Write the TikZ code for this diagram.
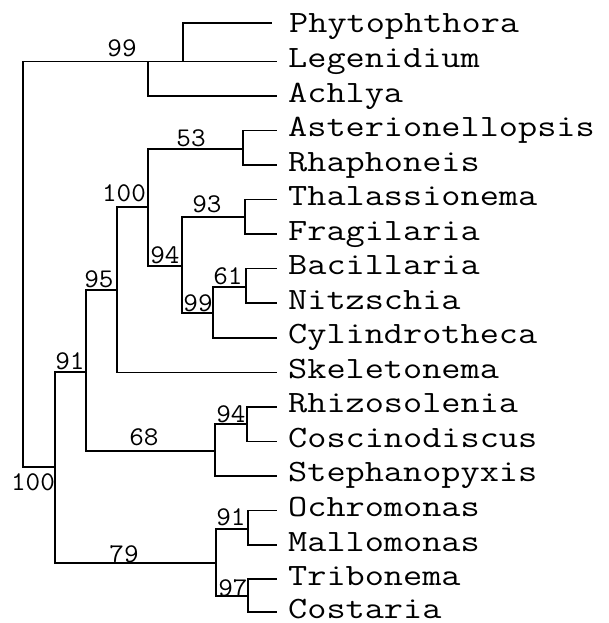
\documentclass[tikz,border=0pt]{standalone}
\usepackage{graphicx}
\newcommand\leafwide[1]{\scalebox{1.2}[1]{#1}}
\newcommand\numwide[1]{\scalebox{1.05}[1]{#1}}
\begin{document}
\begin{tikzpicture}[x=1pt,y=-1pt,
  branch/.style={draw=black, line width=1.5pt},
  leaf/.style={anchor=west, inner xsep=11pt, inner ysep=0pt, text height=12pt, text depth=0pt,
    font=\ttfamily\fontsize{31}{31}\selectfont},
  support/.style={anchor=base, inner sep=0pt, font=\ttfamily\fontsize{27}{27}\selectfont}]
\fill[white] (0,0) rectangle (608,623);
\useasboundingbox (0,0) rectangle (608,623);
% internal nodes
\coordinate (root) at (23,61.5);
\coordinate (oom) at (148,61.5);
\coordinate (pl) at (183,61.5);
\coordinate (nA) at (55,467);
\coordinate (nB) at (86,372);
\coordinate (nC) at (117,290);
\coordinate (nD) at (148,207);
\coordinate (nE) at (243,149);
\coordinate (nF) at (182,266);
\coordinate (nG) at (245,217);
\coordinate (nH) at (213,313);
\coordinate (nI) at (246,287);
\coordinate (nJ) at (215,451);
\coordinate (nK) at (247,424);
\coordinate (nL) at (216,563);
\coordinate (nM) at (248,529);
\coordinate (nN) at (248,596);
% leaves
\node[leaf, text height=20pt, inner xsep=17pt] (phy) at (272,23) {\leafwide{Phytophthora}};
\node[leaf] (leg) at (277,61.5) {\leafwide{Legenidium}};
\node[leaf] (ach) at (277,96.1) {\leafwide{Achlya}};
\node[leaf] (ast) at (277,130.6) {\leafwide{Asterionellopsis}};
\node[leaf] (rha) at (277,165.1) {\leafwide{Rhaphoneis}};
\node[leaf] (tha) at (277,199.7) {\leafwide{Thalassionema}};
\node[leaf] (fra) at (277,234.2) {\leafwide{Fragilaria}};
\node[leaf] (bac) at (277,268.7) {\leafwide{Bacillaria}};
\node[leaf] (nit) at (277,303.2) {\leafwide{Nitzschia}};
\node[leaf] (cyl) at (277,337.8) {\leafwide{Cylindrotheca}};
\node[leaf] (ske) at (277,372.3) {\leafwide{Skeletonema}};
\node[leaf] (rhi) at (277,406.8) {\leafwide{Rhizosolenia}};
\node[leaf] (cos) at (277,441.4) {\leafwide{Coscinodiscus}};
\node[leaf] (ste) at (277,475.9) {\leafwide{Stephanopyxis}};
\node[leaf] (och) at (277,510.4) {\leafwide{Ochromonas}};
\node[leaf] (mal) at (277,545) {\leafwide{Mallomonas}};
\node[leaf] (tri) at (277,579) {\leafwide{Tribonema}};
\node[leaf] (cst) at (277,612) {\leafwide{Costaria}};
% branches
\draw[branch] (root) -- (oom);
\draw[branch] (root) |- (nA);
\draw[branch] (oom) -- (pl);
\draw[branch] (pl) |- (phy.west);
\draw[branch] (pl) -- (leg.west);
\draw[branch] (oom) |- (ach.west);
\draw[branch] (nA) |- (nB);
\draw[branch] (nA) |- (nL);
\draw[branch] (nB) |- (nC);
\draw[branch] (nB) |- (nJ);
\draw[branch] (nC) |- (nD);
\draw[branch] (nC) |- (ske.west);
\draw[branch] (nD) |- (nE);
\draw[branch] (nD) |- (nF);
\draw[branch] (nE) |- (ast.west);
\draw[branch] (nE) |- (rha.west);
\draw[branch] (nF) |- (nG);
\draw[branch] (nF) |- (nH);
\draw[branch] (nG) |- (tha.west);
\draw[branch] (nG) |- (fra.west);
\draw[branch] (nH) |- (nI);
\draw[branch] (nH) |- (cyl.west);
\draw[branch] (nI) |- (bac.west);
\draw[branch] (nI) |- (nit.west);
\draw[branch] (nJ) |- (nK);
\draw[branch] (nJ) |- (ste.west);
\draw[branch] (nK) |- (rhi.west);
\draw[branch] (nK) |- (cos.west);
\draw[branch] (nL) |- (nM);
\draw[branch] (nL) |- (nN);
\draw[branch] (nM) |- (och.west);
\draw[branch] (nM) |- (mal.west);
\draw[branch] (nN) |- (tri.west);
\draw[branch] (nN) |- (cst.west);
% support values
\node[support] (s99a) at (122,57) {\numwide{99}};
\node[support] (s53) at (191,146) {\numwide{53}};
\node[support] (s100a) at (124,201) {\numwide{100}};
\node[support] (s93) at (207,212) {\numwide{93}};
\node[support] (s94a) at (165,263) {\numwide{94}};
\node[support] (s95) at (99,287) {\numwide{95}};
\node[support] (s61) at (228,284) {\numwide{61}};
\node[support] (s99b) at (198,311) {\numwide{99}};
\node[support] (s91a) at (70,369) {\numwide{91}};
\node[support] (s94b) at (231,422) {\numwide{94}};
\node[support] (s68) at (144,445) {\numwide{68}};
\node[support] (s100b) at (33,490) {\numwide{100}};
\node[support] (s91b) at (231,525) {\numwide{91}};
\node[support] (s79) at (124,562) {\numwide{79}};
\node[support] (s97) at (233,596) {\numwide{97}};
\end{tikzpicture}
\end{document}
